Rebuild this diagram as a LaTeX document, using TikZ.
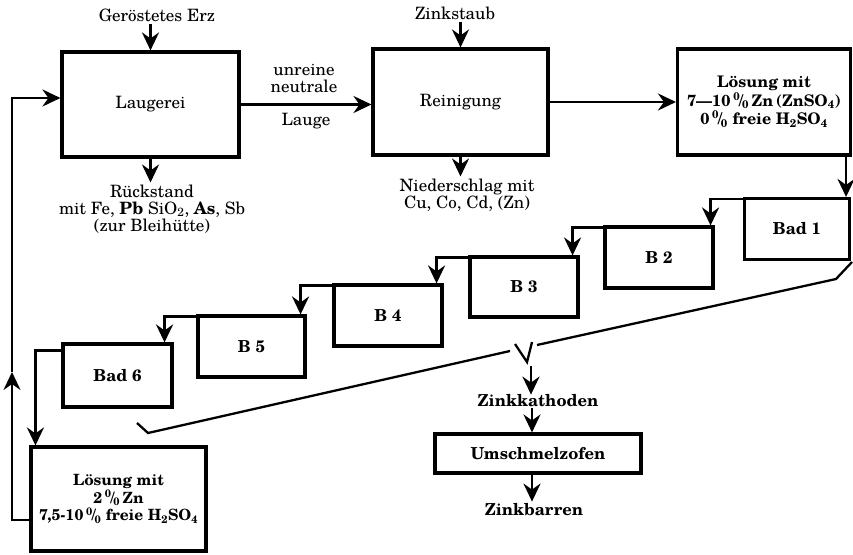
\documentclass[tikz,border=0pt]{standalone}
\usepackage{fontspec}
\setmainfont{TeX Gyre Schola}
\usetikzlibrary{arrows.meta,calc}
\newcommand{\prz}{\textsuperscript{0}\kern-0.08em/\kern-0.08em\textsubscript{0}}
\newcommand{\sub}[1]{\textsubscript{#1}}
\begin{document}
\begin{tikzpicture}[x=1pt,y=-1pt,
  proc/.style={draw,line width=3.1pt,inner sep=0pt,align=center},
  bath/.style={proc,font=\fontsize{16.5}{18}\selectfont\bfseries},
  lbl/.style={inner sep=0pt,align=center},
  flow/.style={line width=2.7pt,-{Stealth[length=18pt,width=17pt,inset=6pt]}},
  wire/.style={line width=2.3pt},
  font=\fontsize{17}{17}\selectfont]
\useasboundingbox (0,0) rectangle (853,554);

% main process boxes
\node[proc,minimum width=177pt,minimum height=105pt] (laug) at (150.5,104.5) {Laugerei};
\node[proc,minimum width=175pt,minimum height=106pt] (rein) at (460.5,102) {Reinigung};
\node[proc,minimum width=173pt,minimum height=106pt,font=\fontsize{16}{18.5}\selectfont\bfseries] (loes1) at (764,102)
  {Lösung mit\\7---10\,\prz\,Zn\,(ZnSO\sub{4})\\0\,\prz\ freie H\sub{2}SO\sub{4}};

% electrolysis baths
\node[bath,minimum width=105pt,minimum height=61pt] (bad1) at (797,229) {Bad 1};
\node[bath,minimum width=108pt,minimum height=61pt] (b2) at (659,257.5) {B 2};
\node[bath,minimum width=108pt,minimum height=60pt] (b3) at (524,287) {B 3};
\node[bath,minimum width=108pt,minimum height=61pt] (b4) at (388,315.5) {B 4};
\node[bath,minimum width=107pt,minimum height=61pt] (b5) at (251.5,346.5) {B 5};
\node[bath,minimum width=109pt,minimum height=63pt] (bad6) at (117.5,375.5) {Bad 6};

\node[proc,minimum width=175pt,minimum height=104pt,font=\fontsize{15.5}{17.5}\selectfont\bfseries] (loes2) at (118.5,499)
  {Lösung mit\\2\,\prz\,Zn\\7,5-10\,\prz\ freie H\sub{2}SO\sub{4}};

\node[proc,minimum width=206pt,minimum height=39pt,font=\fontsize{16.5}{18}\selectfont\bfseries] (ofen) at (538,453.5) {Umschmelzofen};

% inputs, outputs and labels
\node[lbl] (erz) at (157,15) {Geröstetes Erz};
\node[lbl] (staub) at (455,13) {Zinkstaub};
\node[lbl] (rueck) at (152,209) {Rückstand\\mit Fe, \textbf{Pb} SiO\sub{2}, \textbf{As}, Sb\\(zur Bleihütte)};
\node[lbl] (nieder) at (467,195) {Niederschlag mit\\Cu, Co, Cd, (Zn)};
\node[lbl] (unrein) at (304,79) {unreine\\neutrale};
\node[lbl] (lauge) at (306,121) {Lauge};
\node[lbl,font=\fontsize{16.5}{18}\selectfont\bfseries] (kath) at (538,401) {Zinkkathoden};
\node[lbl,font=\fontsize{16.5}{18}\selectfont\bfseries] (barren) at (534,510) {Zinkbarren};

% upper row of flows
\draw[flow] (laug.north |- erz.south) ++(0,2) -- (laug.north);
\draw[flow] (laug.south) -- ($(laug.south |- rueck.north)+(0,-2)$);
\draw[flow] (rein.north |- staub.south) ++(0,2) -- (rein.north);
\draw[flow] (rein.south) -- ($(rein.south |- nieder.north)+(0,-2)$);
\draw[flow] (laug.east) -- (laug.east -| rein.west);
\draw[flow] (rein.east) -- (rein.east -| loes1.west);
\draw[flow] ($(loes1.south east)+(-6,0)$) -- ($(bad1.north east)+(-5,0)$);

% cascade through the baths
\draw[flow] ($(bad1.north west)+(0,2)$) -| ($(b2.north east)+(-4,0)$);
\draw[flow] ($(b2.north west)+(0,2)$) -| ($(b3.north east)+(-7,0)$);
\draw[flow] ($(b3.north west)+(0,2)$) -| ($(b4.north east)+(-7,0)$);
\draw[flow] ($(b4.north west)+(0,2)$) -| ($(b5.north east)+(-6,0)$);
\draw[flow] ($(b5.north west)+(0,2)$) -| ($(bad6.north east)+(-9,0)$);
\draw[flow] ($(bad6.north west)+(0,8)$) -| ($(loes2.north west)+(6,0)$);

% return of the spent electrolyte
\coordinate (r1) at ($(loes2.west)+(0,21)$);
\coordinate (rb) at (12,520);
\coordinate (rm) at (12,372);
\coordinate (rt) at (12,98);
\draw[flow] (r1) -- (rb) -- (rm);
\draw[flow] (rm) -- (rt) -- (laug.west |- rt);

% brace collecting the cathodes
\coordinate (k0) at (852,262);
\coordinate (k1) at (836,279);
\coordinate (k2) at (537,345);
\coordinate (k3) at (510,351);
\coordinate (k4) at (148,433);
\coordinate (k5) at (137,423);
\coordinate (v1) at (515,344);
\coordinate (v2) at (527,362);
\coordinate (v3) at (532,342);
\draw[wire] (k0) -- (k1) -- (k2);
\draw[wire] (k3) -- (k4) -- (k5);
\draw[wire] (v1) -- (v2) -- (v3);

% cathodes to ingots
\coordinate (c0) at (531,366);
\draw[flow] (c0) -- (c0 |- kath.north);
\draw[flow] (kath.south -| c0) ++(1,1) -- ($(ofen.north)+(-6,0)$);
\draw[flow] ($(ofen.south)+(-6,0)$) -- ($(ofen.south |- barren.north)+(-6,-2)$);
\end{tikzpicture}
\end{document}
